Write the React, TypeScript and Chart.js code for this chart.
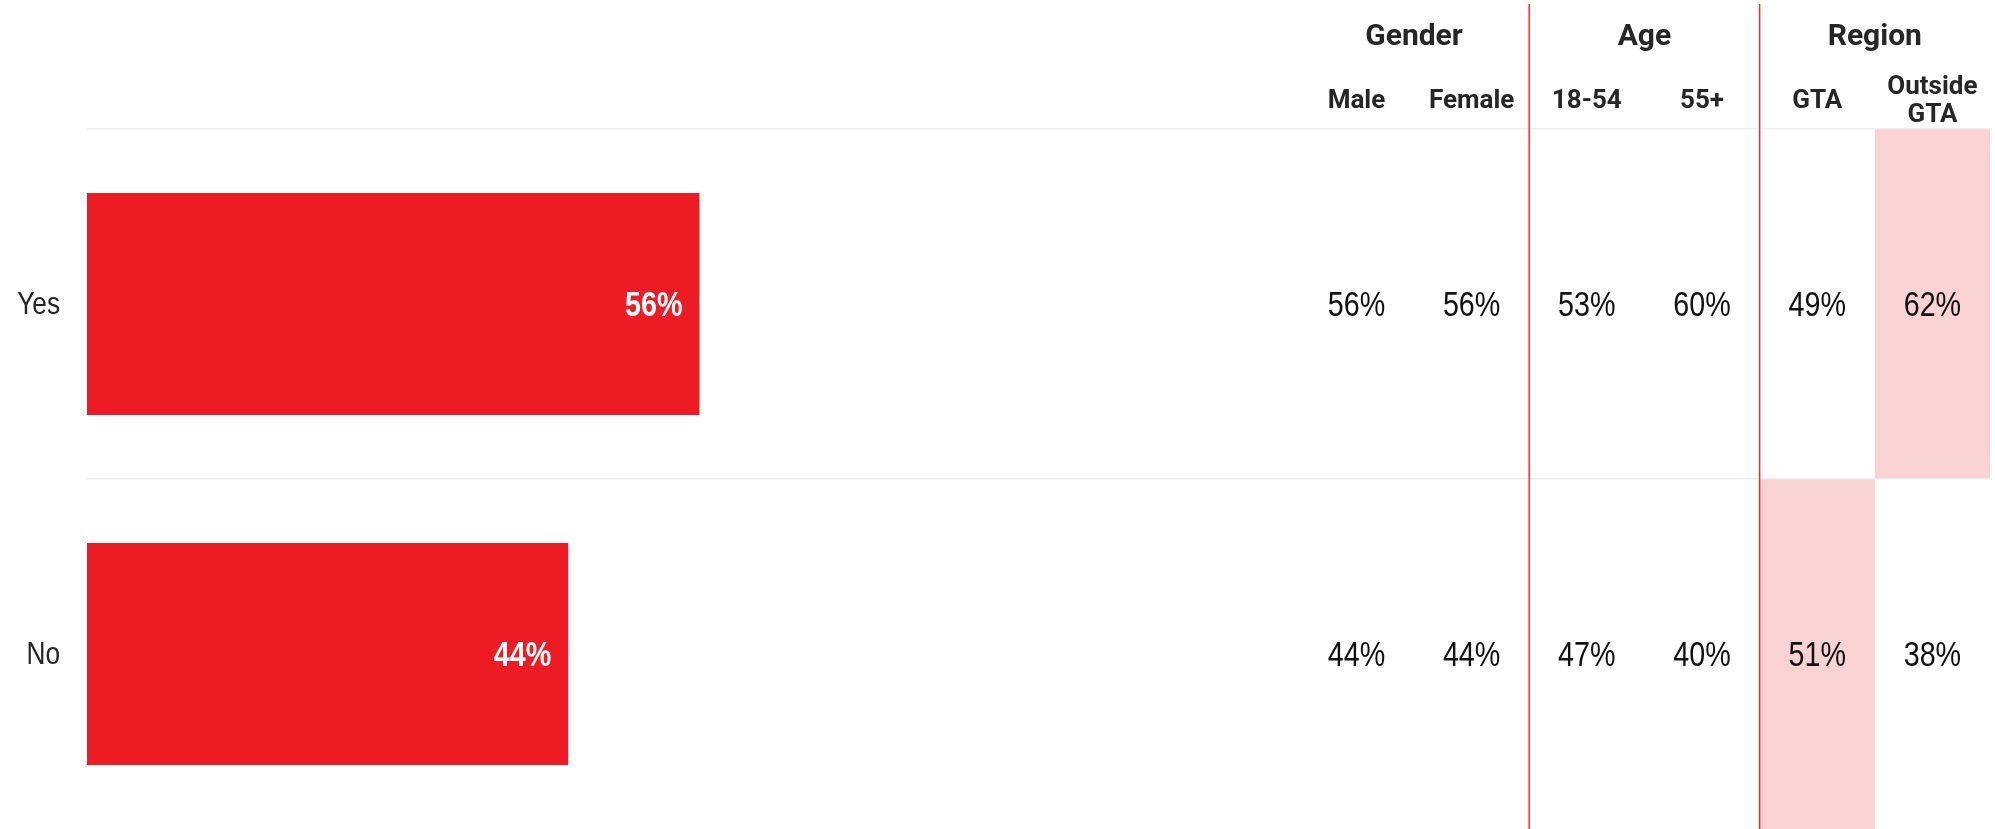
import { useEffect, useRef } from 'react';
import { Chart, registerables } from 'chart.js';

Chart.register(...registerables);

// ---- data ----
const categories = ['Yes', 'No'];
const totalValues = [56, 44];

const groupLabels = ['Gender', 'Age', 'Region'];
const columnLabels = [['Male'], ['Female'], ['18-54'], ['55+'], ['GTA'], ['Outside', 'GTA']];
const maleValues = [56, 44];
const femaleValues = [56, 44];
const age1854Values = [53, 47];
const age55Values = [60, 40];
const gtaValues = [49, 51];
const outsideGtaValues = [62, 38];
const columnValues = [maleValues, femaleValues, age1854Values, age55Values, gtaValues, outsideGtaValues];
// [column index, row index] of highlighted cells
const highlightCells: [number, number][] = [
  [5, 0],
  [4, 1],
];

const SANS = "'Liberation Sans', Arial, sans-serif";
const HEAD = "Roboto, 'Liberation Sans', sans-serif";
const RED = '#ed1c24';
const NARROW_SCALE = 0.82;

function narrowText(ctx: CanvasRenderingContext2D, text: string, x: number, y: number, align: CanvasTextAlign) {
  ctx.save();
  ctx.translate(x, y);
  ctx.scale(NARROW_SCALE, 1);
  ctx.textAlign = align;
  ctx.textBaseline = 'middle';
  ctx.fillText(text, 0, 0);
  ctx.restore();
}

export default function App() {
  const ref = useRef<HTMLCanvasElement>(null);

  useEffect(() => {
    if (!ref.current) return;

    const tablePlugin = {
      id: 'crosstab',
      beforeDraw(chart: any) {
        const { ctx } = chart;
        const cols = chart.scales.cols;
        const y = chart.scales.y;
        ctx.save();
        ctx.fillStyle = '#f9d2d3';
        highlightCells.forEach(([c, r]) => {
          const x0 = cols.getPixelForValue(c - 0.5);
          const x1 = cols.getPixelForValue(c + 0.5);
          const y0 = y.getPixelForValue(r - 0.5);
          const y1 = y.getPixelForValue(r + 0.5);
          ctx.fillRect(x0, y0, x1 - x0, y1 - y0);
        });
        ctx.restore();
      },
      afterDraw(chart: any) {
        const { ctx } = chart;
        const cols = chart.scales.cols;
        const y = chart.scales.y;
        ctx.save();

        // group separators
        ctx.strokeStyle = '#ee2a2f';
        ctx.lineWidth = 1.5;
        for (let g = 1; g < groupLabels.length; g++) {
          const x = cols.getPixelForValue(g * 2 - 0.5);
          ctx.beginPath();
          ctx.moveTo(x, 4);
          ctx.lineTo(x, chart.height);
          ctx.stroke();
        }

        ctx.textAlign = 'center';
        ctx.textBaseline = 'middle';

        // group headers
        ctx.fillStyle = '#262626';
        ctx.font = `bold 30px ${HEAD}`;
        groupLabels.forEach((g, i) => {
          ctx.fillText(g, cols.getPixelForValue(i * 2 + 0.5), 37);
        });

        // column headers
        ctx.font = `bold 26px ${HEAD}`;
        columnLabels.forEach((lines, c) => {
          const x = cols.getPixelForValue(c);
          lines.forEach((ln, i) => {
            ctx.fillText(ln, x, 101 + (i - (lines.length - 1) / 2) * 28);
          });
        });

        // category labels (y axis)
        ctx.fillStyle = '#262626';
        ctx.font = `32px ${SANS}`;
        categories.forEach((_, i) => {
          narrowText(ctx, y.getLabelForValue(i), chart.chartArea.left - 27, y.getPixelForTick(i) + 1, 'right');
        });

        // cell values
        ctx.fillStyle = '#111111';
        ctx.font = `35px ${SANS}`;
        columnValues.forEach((vals, c) => {
          const x = cols.getPixelForValue(c);
          vals.forEach((v, r) => {
            narrowText(ctx, `${v}%`, x, y.getPixelForValue(r) + 2, 'center');
          });
        });

        // bar labels
        const meta = chart.getDatasetMeta(0);
        ctx.fillStyle = '#ffffff';
        ctx.font = `bold 35px ${SANS}`;
        meta.data.forEach((bar: any, i: number) => {
          narrowText(ctx, `${totalValues[i]}%`, bar.x - 17, bar.y + 2, 'right');
        });

        ctx.restore();
      },
    };

    const chart = new Chart(ref.current, {
      type: 'bar',
      data: {
        labels: categories,
        datasets: [
          {
            data: totalValues,
            backgroundColor: RED,
            borderWidth: 0,
            barPercentage: 0.634,
            categoryPercentage: 1,
          },
        ],
      },
      options: {
        indexAxis: 'y',
        responsive: true,
        maintainAspectRatio: false,
        animation: false,
        layout: { padding: { top: 129, right: 5, bottom: 0, left: 0 } },
        plugins: {
          legend: { display: false },
          tooltip: { enabled: false },
        },
        scales: {
          x: { type: 'linear', min: 0, max: 174, display: false },
          cols: { type: 'linear', axis: 'x', min: -11.02, max: 5.5, display: false },
          y: {
            type: 'category',
            grid: {
              color: (c: any) => (c.type === 'tick' ? '#eeeeee' : 'rgba(0,0,0,0)'),
              drawTicks: false,
              lineWidth: 1.5,
            },
            border: { display: false },
            ticks: { display: false },
            afterFit(s: any) {
              s.width = 87;
              s.paddingTop = 0;
              s.paddingBottom = 0;
            },
          },
        },
      } as any,
      plugins: [tablePlugin],
    });

    return () => chart.destroy();
  }, []);

  return (
    <div style={{ position: 'fixed', left: 0, top: 0, width: 1995, height: 829, background: '#ffffff' }}>
      <canvas ref={ref} />
    </div>
  );
}
